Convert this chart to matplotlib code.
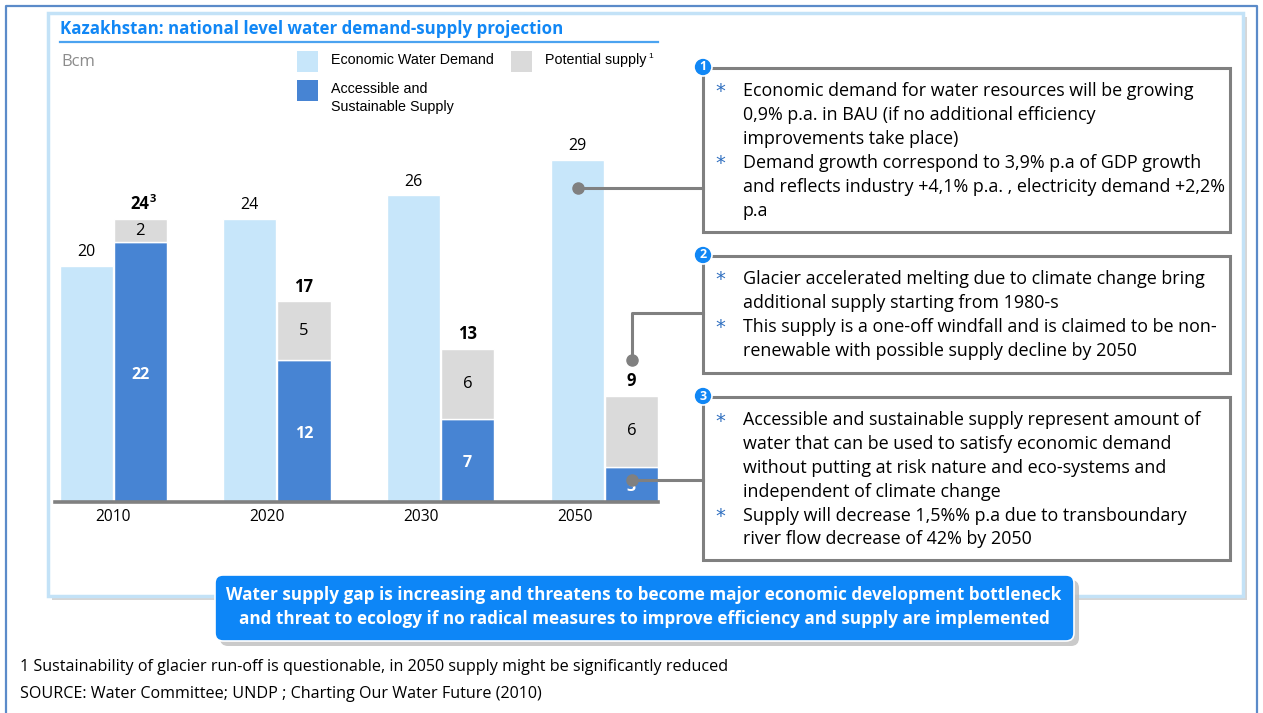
import matplotlib
matplotlib.use('Agg')
import matplotlib.pyplot as plt
from matplotlib.patches import Rectangle, FancyBboxPatch, Circle
import numpy as np

# ---------------- data ----------------
years = ['2010', '2020', '2030', '2050']
demand = [20, 24, 26, 29]
sustainable = [22, 12, 7, 3]
potential = [2, 5, 6, 6]
total_sup = ['3', '', '', '']

title = 'Kazakhstan: national level water demand-supply projection'
unit = 'Bcm'
legend_labels = ['Economic Water Demand', 'Potential supply', 'Accessible and\nSustainable Supply']
box1 = ['Economic demand for water resources will be growing\n0,9% p.a. in BAU (if no additional efficiency\nimprovements take place)',
        'Demand growth correspond to 3,9% p.a of GDP growth\nand reflects industry +4,1% p.a. , electricity demand +2,2%\np.a']
box2 = ['Glacier accelerated melting due to climate change bring\nadditional supply starting from 1980-s',
        'This supply is a one-off windfall and is claimed to be non-\nrenewable with possible supply decline by 2050']
box3 = ['Accessible and sustainable supply represent amount of\nwater that can be used to satisfy economic demand\nwithout putting at risk nature and eco-systems and\nindependent of climate change',
        'Supply will decrease 1,5%% p.a due to transboundary\nriver flow decrease of 42% by 2050']
callout = ['Water supply gap is increasing and threatens to become major economic development bottleneck',
           'and threat to ecology if no radical measures to improve efficiency and supply are implemented']
foot1 = '1 Sustainability of glacier run-off is questionable, in 2050 supply might be significantly reduced'
foot2 = 'SOURCE: Water Committee; UNDP ; Charting Our Water Future (2010)'

# ---------------- style ----------------
C_DEM = '#C7E6FA'
C_SUS = '#4784D3'
C_POT = '#DADADA'
C_BLUE = '#1187F5'
C_GRAY = '#808080'
FONT = 'Open Sans'
LEG_FONT = 'Liberation Sans'
PXU = 11.8  # pixels per unit

W, H = 1263, 713
fig = plt.figure(figsize=(W / 100, H / 100), dpi=100)

# background overlay (pixel coords)
bg = fig.add_axes([0, 0, 1, 1], zorder=0)
bg.set_xlim(0, W); bg.set_ylim(H, 0); bg.axis('off')
# outer frame
bg.plot([6, 6, 1257, 1257], [H + 5, 6, 6, H + 5], color='#5B8BC9', lw=1.6)
# inner panel shadow and border
bg.add_patch(Rectangle((52, 17), 1195, 583, facecolor='#D6D6D6', edgecolor='none'))
bg.add_patch(Rectangle((48, 13), 1195, 583, facecolor='white', edgecolor='#C3E2F7', lw=2.5))

# chart axes
ax = fig.add_axes([55 / W, 1 - 502 / H, 603 / W, 32 * PXU / H], zorder=2)
ax.patch.set_alpha(0)
x = np.arange(len(years))
w = 0.325
off = 0.165
dem = np.array(demand)
sus = np.array(sustainable)
pot = np.array(potential)
tot = sus + pot
ax.bar(x - off, dem, w, color=C_DEM, edgecolor='white', lw=1)
ax.bar(x + off, sus, w, color=C_SUS, edgecolor='white', lw=1)
ax.bar(x + off, pot, w, bottom=sus, color=C_POT, edgecolor='white', lw=1)
ax.set_xlim(-0.355, 3.3275)
ax.set_ylim(0, 32)
for s in ['top', 'right', 'left']:
    ax.spines[s].set_visible(False)
ax.spines['bottom'].set_color(C_GRAY)
ax.spines['bottom'].set_linewidth(2.6)
ax.set_yticks([])
ax.set_xticks(x - 0.06 * x)
ax.set_xticklabels(years, fontsize=11.2, family=FONT)
ax.tick_params(axis='x', length=0, pad=5)

for i in range(len(years)):
    ax.text(x[i] - off, dem[i] + 1.15, str(dem[i]), ha='center', va='center', fontsize=11.5, family=FONT)
    ax.text(x[i] + off, sus[i] / 2 - 0.2, str(sus[i]), ha='center', va='center', fontsize=11.5,
            family=FONT, color='white', weight='bold')
    ax.text(x[i] + off, sus[i] + pot[i] / 2, str(pot[i]), ha='center', va='center', fontsize=12, family=FONT)
    ax.text(x[i] + off, tot[i] + 1.25, str(tot[i]), ha='center', va='center', fontsize=12,
            family=FONT, weight='bold')
    if total_sup[i]:
        ax.annotate(total_sup[i], (x[i] + off, tot[i] + 1.25), xytext=(6.5, 3), textcoords='offset points',
                    ha='left', va='center', fontsize=8, family=FONT, weight='bold')

# foreground overlay (pixel coords)
fg = fig.add_axes([0, 0, 1, 1], zorder=3)
fg.set_xlim(0, W); fg.set_ylim(H, 0); fg.axis('off'); fg.patch.set_alpha(0)

fg.text(60, 29, title, fontsize=12.2, weight='bold', color=C_BLUE, family=FONT, va='center')
fg.plot([60, 658], [42, 42], color='#4BA3F0', lw=1.6)
fg.text(61, 62, unit, fontsize=12, color='#8C8C8C', family=FONT, va='center')

# legend
fg.add_patch(Rectangle((297, 51), 21, 21, facecolor=C_DEM, edgecolor='none'))
fg.text(331, 60, legend_labels[0], fontsize=10.3, family=LEG_FONT, va='center')
fg.add_patch(Rectangle((511, 51), 21, 21, facecolor=C_POT, edgecolor='none'))
fg.text(545, 60, legend_labels[1], fontsize=10.3, family=LEG_FONT, va='center')
fg.text(648, 56, '1', fontsize=6, family=LEG_FONT, va='center')
fg.add_patch(Rectangle((297, 80), 21, 21, facecolor=C_SUS, edgecolor='none'))
fg.text(331, 89, legend_labels[2].split('\n')[0], fontsize=10.3, family=LEG_FONT, va='center')
fg.text(331, 107, legend_labels[2].split('\n')[1], fontsize=10.3, family=LEG_FONT, va='center')

# boxes
def draw_box(num, top, bottom, bullets, line_h=23.9):
    fg.add_patch(Rectangle((703, top), 527, bottom - top, facecolor='none', edgecolor=C_GRAY, lw=2.2))
    fg.add_patch(Circle((703, top - 1), 9, facecolor=C_BLUE, edgecolor='white', lw=1.2, zorder=5))
    fg.text(703, top - 1, str(num), color='white', fontsize=9, weight='bold', ha='center', va='center',
            family=FONT, zorder=6)
    y = top + 23
    for b in bullets:
        fg.text(720, y + 1, '*', color='#2F6FC0', fontsize=14, ha='center', va='center', family='DejaVu Sans')
        for line in b.split('\n'):
            fg.text(743, y, line, fontsize=12.9, family=FONT, va='center')
            y += line_h

draw_box(1, 68, 232, box1)
draw_box(2, 256, 373, box2)
draw_box(3, 397, 560, box3)

# connectors
fg.plot([578, 703], [188, 188], color=C_GRAY, lw=2.2)
fg.plot(578, 188, 'o', color=C_GRAY, ms=8)
fg.plot([632, 632, 703], [360, 313, 313], color=C_GRAY, lw=2.2)
fg.plot(632, 360, 'o', color=C_GRAY, ms=8)
fg.plot([632, 703], [480, 480], color=C_GRAY, lw=2.2)
fg.plot(632, 480, 'o', color=C_GRAY, ms=8)

# callout
fg.add_patch(FancyBboxPatch((220, 580), 859, 66, boxstyle='round,pad=0,rounding_size=8',
                            facecolor='#BDBDBD', edgecolor='none', alpha=0.8))
fg.add_patch(FancyBboxPatch((215, 575), 859, 66, boxstyle='round,pad=0,rounding_size=8',
                            facecolor='#0D86F7', edgecolor='white', lw=1.2))
fg.text(644, 595, callout[0], color='white', fontsize=12.3, weight='bold', ha='center', va='center', family=FONT)
fg.text(644, 619, callout[1], color='white', fontsize=12.3, weight='bold', ha='center', va='center', family=FONT)

fg.text(20, 667, foot1, fontsize=11.6, family=FONT, va='center')
fg.text(20, 694, foot2, fontsize=11.6, family=FONT, va='center')

fig.savefig('out.png', dpi=100)
